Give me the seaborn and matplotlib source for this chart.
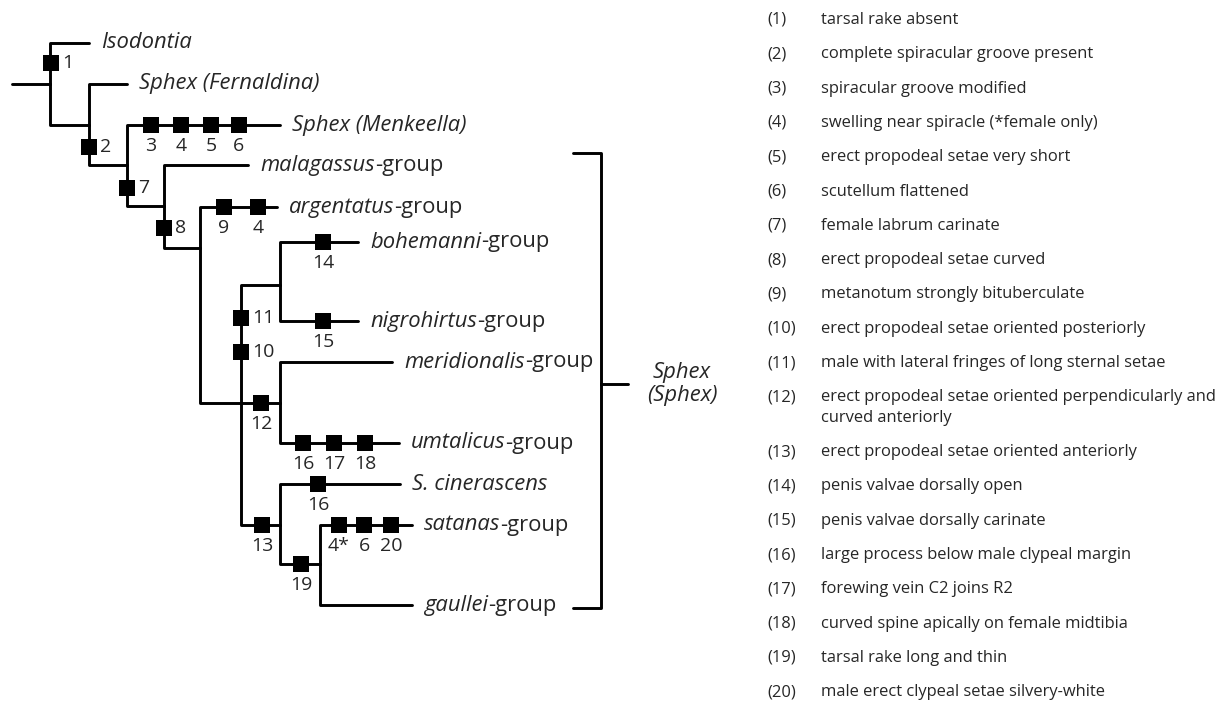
import matplotlib
matplotlib.use('Agg')
import seaborn as sns
import matplotlib.pyplot as plt
import pandas as pd

# tree nodes: depth (x, px) and row (y, px), with parent links
node_names = ['root', 'A', 'B', 'C', 'D', 'E', 'F', 'G', 'N12', 'N13', 'N19',
              'Isodontia', 'Fernaldina', 'Menkeella', 'malagassus', 'argentatus',
              'bohemanni', 'nigrohirtus', 'meridionalis', 'umtalicus',
              'cinerascens', 'satanas', 'gaullei']
node_x = [12, 50, 89, 127, 164, 200, 241, 280, 280, 280, 320,
          89, 127, 280, 248, 277, 358, 358, 392, 399, 400, 412, 412]
node_y = [84, 84, 125, 165, 206, 248, 403, 285, 403, 525, 564,
          43, 84, 125, 165, 207, 242, 321, 362, 443, 484, 525, 605]
node_parent = [None, 'root', 'A', 'B', 'C', 'D', 'E', 'F', 'F', 'F', 'N13',
               'A', 'B', 'C', 'D', 'E', 'G', 'G', 'N12', 'N12', 'N13', 'N19', 'N19']

tip_nodes = ['Isodontia', 'Fernaldina', 'Menkeella', 'malagassus', 'argentatus',
             'bohemanni', 'nigrohirtus', 'meridionalis', 'umtalicus',
             'cinerascens', 'satanas', 'gaullei']
tip_italic = ['Isodontia', 'Sphex (Fernaldina)', 'Sphex (Menkeella)', 'malagassus',
              'argentatus', 'bohemanni', 'nigrohirtus', 'meridionalis', 'umtalicus',
              'S. cinerascens', 'satanas', 'gaullei']
tip_plain = ['', '', '', '-group', '-group', '-group', '-group', '-group', '-group',
             '', '-group', '-group']

# character state changes on the branches
char_labels = ['1', '2', '7', '8', '3', '4', '5', '6', '9', '4', '14', '15', '11', '10',
               '12', '16', '17', '18', '16', '13', '19', '4*', '6', '20']
char_x = [51, 89, 127, 164, 151, 181, 211, 239, 224, 258, 323, 323, 241, 241,
          261, 303, 334, 365, 318, 262, 301, 339, 364, 391]
char_y = [63, 147, 188, 228, 125, 125, 125, 125, 207, 207, 242, 321, 318, 352,
          403, 443, 443, 443, 484, 525, 564, 525, 525, 525]
char_side = ['right', 'right', 'right', 'right', 'below', 'below', 'below', 'below',
             'below', 'below', 'below', 'below', 'right', 'right', 'below', 'below',
             'below', 'below', 'below', 'below', 'below', 'below', 'below', 'below']

# bracket for Sphex (Sphex)
bracket_x = 601
bracket_top = 153
bracket_bottom = 608
bracket_mid = 384
clade_label = 'Sphex\n(Sphex)'

char_desc = ['tarsal rake absent',
             'complete spiracular groove present',
             'spiracular groove modified',
             'swelling near spiracle (*female only)',
             'erect propodeal setae very short',
             'scutellum flattened',
             'female labrum carinate',
             'erect propodeal setae curved',
             'metanotum strongly bituberculate',
             'erect propodeal setae oriented posteriorly',
             'male with lateral fringes of long sternal setae',
             'erect propodeal setae oriented perpendicularly and\ncurved anteriorly',
             'erect propodeal setae oriented anteriorly',
             'penis valvae dorsally open',
             'penis valvae dorsally carinate',
             'large process below male clypeal margin',
             'forewing vein C2 joins R2',
             'curved spine apically on female midtibia',
             'tarsal rake long and thin',
             'male erect clypeal setae silvery-white']

sns.set_theme(style='white')
plt.rcParams['font.family'] = ['Open Sans', 'DejaVu Sans']

fig = plt.figure(figsize=(12.31, 7.02), dpi=100)
ax = fig.add_axes([0, 0, 1, 1])
ax.set_xlim(0, 1231)
ax.set_ylim(702, 0)
ax.axis('off')

#build elbow edges from parent to child
pos = {n: (x, y) for n, x, y in zip(node_names, node_x, node_y)}
rows = []
for i, (n, p) in enumerate(zip(node_names, node_parent)):
    if p is None:
        continue
    px, py = pos[p]
    cx, cy = pos[n]
    rows += [(px, py, i), (px, cy, i), (cx, cy, i)]
edges = pd.DataFrame(rows, columns=['x', 'y', 'seg'])
sns.lineplot(data=edges, x='x', y='y', units='seg', estimator=None, sort=False,
             color='black', lw=2.1, ax=ax, legend=False)

# bracket
brk = pd.DataFrame({'x': [bracket_x - 28, bracket_x, bracket_x, bracket_x - 28, None,
                          bracket_x, bracket_x + 27],
                    'y': [bracket_top, bracket_top, bracket_bottom, bracket_bottom, None,
                          bracket_mid, bracket_mid]})
ax.plot(brk['x'], brk['y'], color='black', lw=2.1)
ax.text(682, bracket_mid, clade_label, style='italic', fontsize=15.8,
        ha='center', va='center', linespacing=1.15)

# character markers
chars = pd.DataFrame({'x': char_x, 'y': char_y})
sns.scatterplot(data=chars, x='x', y='y', marker='s', s=120, color='black',
                linewidth=0, ax=ax, zorder=5, legend=False)
for lab, x, y, side in zip(char_labels, char_x, char_y, char_side):
    if side == 'right':
        ax.text(x + 11, y, lab, fontsize=14, ha='left', va='center')
    else:
        ax.text(x, y + 21, lab, fontsize=14, ha='center', va='center')

# tip labels
fig.canvas.draw()
renderer = fig.canvas.get_renderer()
inv = ax.transData.inverted()
for n, it, pl in zip(tip_nodes, tip_italic, tip_plain):
    x, y = pos[n]
    t = ax.text(x + 12, y, it, style='italic', fontsize=15.8, ha='left', va='center')
    if pl:
        bb = t.get_window_extent(renderer)
        x1 = inv.transform((bb.x1, bb.y0))[0]
        ax.text(x1, y, pl, fontsize=15.8, ha='left', va='center')

# character list
yy = 20
for i, d in enumerate(char_desc):
    ax.text(767, yy, f'({i + 1})', fontsize=11.9, ha='left', va='center')
    for k, line in enumerate(d.split('\n')):
        ax.text(821, yy + k * 20.5, line, fontsize=11.9, ha='left', va='center')
    yy += 34.3 + 20.5 * (len(d.split('\n')) - 1)

fig.savefig('out.png', dpi=100)
